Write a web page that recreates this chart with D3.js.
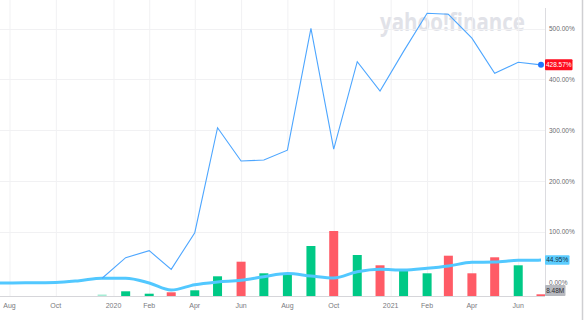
<!DOCTYPE html>
<html>
<head>
<meta charset="utf-8">
<script src="https://cdn.jsdelivr.net/npm/d3@7"></script>
<style>
  body { margin: 0; background: #fff; }
  svg { display: block; font-family: "Liberation Sans", Arial, sans-serif; }
</style>
</head>
<body>
<div id="chart"></div>
<script>
// monthly points, thick line = benchmark % change
const months = ["2019-07", "2019-08", "2019-09", "2019-10", "2019-11", "2019-12",
  "2020-01", "2020-02", "2020-03", "2020-04", "2020-05", "2020-06", "2020-07",
  "2020-08", "2020-09", "2020-10", "2020-11", "2020-12", "2021-01", "2021-02",
  "2021-03", "2021-04", "2021-05", "2021-06", "2021-07"];
const benchChange = [0, 0, 0.5, 1, 4.5, 9.4, 9.4, 0, -13.9, -3.3, 2, 5.3, 12.4,
  18.5, 13.8, 9.8, 22, 26.9, 25.5, 28.9, 33.4, 40.7, 41.3, 44.6, 44.95];

// thin line = stock % change, starts Dec 2019
const priceMonths = months.slice(5);
const priceChange = [9.4, 49.7, 63.5, 26.9, 98.8, 305, 239.7, 241.6, 261, 500.4,
  263, 434.8, 377, 455, 530, 528, 481, 412, 433.6, 428.57];

// volume bars (millions)
const volMonths = months.slice(5);
const volume = [7.5, 23.5, 11.5, 18.5, 28.5, 98.5, 171.5, 113.5, 105, 250, 325,
  205, 153.5, 126.5, 113.5, 201.5, 113.5, 193.5, 153.5, 8.48];
const volDir = ["faint", "up", "up", "down", "up", "up", "down", "up", "up", "up",
  "down", "up", "down", "up", "up", "down", "down", "down", "up", "down"];

const tickDates = ["2019-08-01", "2019-10-01", "2019-12-16", "2020-02-01",
  "2020-04-01", "2020-06-01", "2020-08-01", "2020-10-01", "2020-12-15",
  "2021-02-01", "2021-04-01", "2021-06-01"];
const tickLabels = ["Aug", "Oct", "2020", "Feb", "Apr", "Jun", "Aug", "Oct",
  "2021", "Feb", "Apr", "Jun"];
const yTicks = [0, 100, 200, 300, 400, 500];

const W = 585, H = 320;
const plotRight = 545, baseY = 296;
const upColour = "#00c986";
const downColour = "#ff5b66";

const parseMonth = d3.utcParse("%Y-%m");
const parseDay = d3.utcParse("%Y-%m-%d");

const x = d3.scaleUtc()
  .domain([parseMonth("2019-08"), parseMonth("2021-07")])
  .range([9.5, 541]);
const y = d3.scaleLinear().domain([0, 500]).range([283, 28.5]);
const v = d3.scaleLinear().domain([0, 325]).range([0, 65]);

const svg = d3.select("#chart").append("svg")
  .attr("width", W).attr("height", H);

svg.append("defs").append("clipPath").attr("id", "plot")
  .append("rect").attr("x", 0).attr("y", 0)
  .attr("width", plotRight).attr("height", baseY);

// watermark, squeezed to fit 380..525
const mark = svg.append("text")
  .style("font-size", "25px").style("font-weight", "bold")
  .style("font-family", "'Open Sans', 'Liberation Sans', sans-serif")
  .attr("fill", "#e1e2e8")
  .text("yahoo!finance");
const markW = mark.node().getComputedTextLength();
mark.attr("transform", `translate(380,31) scale(${145 / markW},1)`);

// grid
const grid = svg.append("g");
grid.selectAll("line.v")
  .data(tickDates)
  .join("line")
  .attr("class", "v")
  .attr("x1", (d) => x(parseDay(d)) + 0.5).attr("x2", (d) => x(parseDay(d)) + 0.5)
  .attr("y1", 0).attr("y2", baseY)
  .attr("stroke", "#f1f1f3");
grid.selectAll("line.h")
  .data(yTicks.filter((d) => d > 0))
  .join("line")
  .attr("class", "h")
  .attr("x1", 0).attr("x2", plotRight)
  .attr("y1", (d) => Math.round(y(d)) + 0.5).attr("y2", (d) => Math.round(y(d)) + 0.5)
  .attr("stroke", "#f1f1f3");

const plot = svg.append("g").attr("clip-path", "url(#plot)");

// volume bars
const barW = 9;
plot.selectAll("rect.bar")
  .data(volume)
  .join("rect")
  .attr("class", "bar")
  .attr("x", (d, i) => x(parseMonth(volMonths[i])) - barW / 2)
  .attr("width", barW)
  .attr("y", (d) => baseY - v(d))
  .attr("height", (d) => v(d))
  .attr("fill", (d, i) => (volDir[i] === "down" ? downColour : upColour))
  .attr("opacity", (d, i) => (volDir[i] === "faint" ? 0.35 : 1));

// thick benchmark line
plot.append("path")
  .datum(benchChange)
  .attr("fill", "none")
  .attr("stroke", "#52c8ff")
  .attr("stroke-width", 3)
  .attr("stroke-linejoin", "round")
  .attr("d", d3.line()
    .x((d, i) => x(parseMonth(months[i])))
    .y((d) => y(d))
    .curve(d3.curveMonotoneX));

// thin price line
plot.append("path")
  .datum(priceChange)
  .attr("fill", "none")
  .attr("stroke", "#4da6ff")
  .attr("stroke-width", 1.1)
  .attr("d", d3.line()
    .x((d, i) => x(parseMonth(priceMonths[i])))
    .y((d) => y(d)));

const last = priceChange.length - 1;
svg.append("circle")
  .attr("cx", x(parseMonth(priceMonths[last])))
  .attr("cy", y(priceChange[last]))
  .attr("r", 3)
  .attr("fill", "#1f74ff");

// x axis baseline
svg.append("line")
  .attr("x1", 0).attr("x2", plotRight)
  .attr("y1", baseY + 0.5).attr("y2", baseY + 0.5)
  .attr("stroke", "#d6d6da");

// right axis line
svg.append("line")
  .attr("x1", plotRight + 0.5).attr("x2", plotRight + 0.5)
  .attr("y1", 8).attr("y2", baseY)
  .attr("stroke", "#dcdce0");

// x tick labels
svg.selectAll("text.xl")
  .data(tickLabels)
  .join("text")
  .attr("class", "xl")
  .attr("x", (d, i) => x(parseDay(tickDates[i])))
  .attr("y", 308)
  .attr("text-anchor", "middle")
  .style("font-size", "7px")
  .attr("fill", "#7a7a80")
  .text((d) => d);

// y tick labels
svg.selectAll("text.yl")
  .data(yTicks)
  .join("text")
  .attr("class", "yl")
  .attr("x", 549)
  .attr("y", (d) => y(d) + 2.3)
  .style("font-size", "6.5px")
  .attr("fill", "#6a6a70")
  .text((d) => d3.format(".2f")(d) + "%");

// end-value tags
function tag(cy, h, w, fill, colour, label) {
  const g = svg.append("g");
  g.append("rect")
    .attr("x", plotRight).attr("y", cy - h / 2)
    .attr("width", w).attr("height", h)
    .attr("rx", 1)
    .attr("fill", fill);
  g.append("text")
    .attr("x", plotRight + w / 2).attr("y", cy + 2.3)
    .attr("text-anchor", "middle")
    .style("font-size", "6.5px")
    .attr("fill", colour)
    .text(label);
}
tag(y(priceChange[last]), 11, 27.5, "#ff0d1f", "#fff", d3.format(".2f")(priceChange[last]) + "%");
tag(y(benchChange[benchChange.length - 1]), 9.5, 24.5, "#5ccdff", "#12303f", d3.format(".2f")(benchChange[benchChange.length - 1]) + "%");
tag(baseY - 5.5, 11, 20.5, "#b7b9bf", "#2c2c30", volume[volume.length - 1] + "M");

// right frame edge
svg.append("line")
  .attr("x1", 582.5).attr("x2", 582.5)
  .attr("y1", 0).attr("y2", H)
  .attr("stroke", "#cfcfd2")
  .attr("stroke-width", 1.5);
</script>
</body>
</html>
